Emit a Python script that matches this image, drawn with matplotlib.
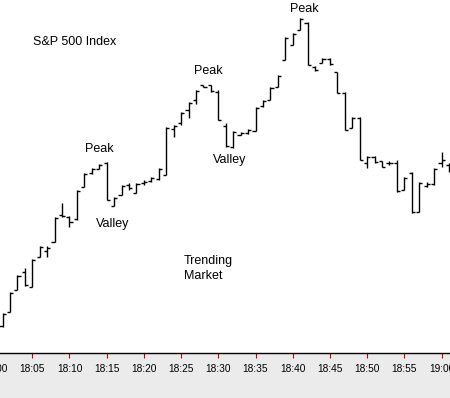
import matplotlib
matplotlib.use("Agg")
import matplotlib.pyplot as plt
import numpy as np

# minutes after 18:00
minutes = list(range(1, 62))
opens = [1182.4, 1183.8, 1186.0, 1187.8, 1186.3, 1189.3, 1189.9, 1190.8, 1193.5, 1193.3,
         1193.1, 1196.3, 1197.7, 1198.1, 1198.7, 1194.4, 1195.5, 1196.5, 1195.7, 1196.7,
         1196.9, 1197.1, 1197.5, 1202.1, 1202.7, 1204.0, 1205.0, 1206.5, 1206.5, 1205.8,
         1202.4, 1200.3, 1201.5, 1201.7, 1201.9, 1204.4, 1205.0, 1206.3, 1209.0, 1210.5,
         1212.0, 1212.7, 1208.3, 1208.7, 1209.1, 1207.8, 1205.7, 1202.2, 1203.2, 1198.7,
         1199.3, 1198.9, 1198.7, 1198.7, 1196.0, 1197.7, 1193.8, 1196.4, 1196.6, 1198.7,
         1198.5]
highs = [1183.7, 1185.8, 1187.5, 1188.2, 1189.1, 1190.4, 1190.4, 1193.3, 1194.7, 1193.4,
         1196.0, 1197.7, 1198.2, 1198.6, 1198.8, 1195.3, 1196.5, 1196.7, 1196.7, 1197.0,
         1197.3, 1198.2, 1202.3, 1202.5, 1203.8, 1204.8, 1206.0, 1206.5, 1206.5, 1206.0,
         1202.7, 1201.9, 1201.8, 1202.1, 1204.3, 1205.0, 1206.3, 1207.5, 1211.3, 1211.7,
         1213.2, 1212.8, 1208.4, 1209.2, 1209.2, 1207.8, 1205.8, 1203.3, 1203.3, 1199.4,
         1199.4, 1198.9, 1198.9, 1199.0, 1197.3, 1197.8, 1196.8, 1196.8, 1198.2, 1199.8,
         1198.7]
lows = [1182.3, 1183.8, 1186.0, 1186.4, 1186.3, 1189.3, 1189.3, 1190.8, 1193.3, 1192.3,
        1193.0, 1196.3, 1197.6, 1198.1, 1195.0, 1194.4, 1195.5, 1196.0, 1195.7, 1196.5,
        1196.8, 1197.0, 1197.5, 1201.3, 1202.5, 1203.2, 1204.6, 1206.3, 1205.8, 1203.0,
        1200.3, 1200.2, 1201.5, 1201.6, 1201.9, 1204.3, 1205.0, 1206.3, 1209.0, 1210.5,
        1212.0, 1208.5, 1207.9, 1208.7, 1208.5, 1205.7, 1202.0, 1202.2, 1199.0, 1198.2,
        1198.7, 1198.3, 1198.5, 1195.8, 1196.0, 1193.7, 1193.8, 1196.3, 1196.5, 1198.3,
        1197.8]
closes = [1183.6, 1185.7, 1187.4, 1186.5, 1189.0, 1190.3, 1190.2, 1193.2, 1193.4, 1192.8,
          1195.9, 1197.6, 1198.1, 1198.5, 1195.0, 1195.2, 1196.4, 1196.2, 1196.6, 1196.8,
          1197.2, 1198.1, 1202.2, 1202.4, 1203.7, 1204.7, 1205.9, 1206.3, 1205.9, 1203.0,
          1200.4, 1201.8, 1201.7, 1202.0, 1204.2, 1204.9, 1206.2, 1207.4, 1211.2, 1211.6,
          1213.1, 1208.5, 1208.0, 1209.1, 1208.6, 1205.7, 1202.0, 1203.2, 1199.0, 1199.3,
          1198.8, 1198.3, 1198.7, 1195.9, 1197.2, 1193.8, 1196.7, 1196.6, 1198.1, 1199.0,
          1198.2]

tick_minutes = list(range(0, 61, 5))
tick_labels = ["18:00", "18:05", "18:10", "18:15", "18:20", "18:25", "18:30",
               "18:35", "18:40", "18:45", "18:50", "18:55", "19:00"]

annotations = [
    ("Peak", 13.97, 1200.1),
    ("Valley", 15.85, 1192.6),
    ("Peak", 28.61, 1207.9),
    ("Valley", 31.57, 1199.0),
    ("Peak", 41.52, 1214.1),
]

plt.rcParams['font.family'] = ['Liberation Sans', 'DejaVu Sans']

fig = plt.figure(figsize=(4.5, 3.98), dpi=100, facecolor='#ebebeb')
ax = fig.add_axes([0, 45 / 398, 1, 353 / 398])
ax.set_facecolor('white')

x = np.array(minutes, dtype=float)
w = 0.42
lw = 1.0
ax.vlines(x, lows, highs, color='black', lw=lw)
ax.hlines(opens, x - w, x, color='black', lw=lw)
ax.hlines(closes, x, x + w, color='black', lw=lw)

tick_len = 3.3
tick_pad = 4.5
tick_fs = 7.3
for s in ['top', 'right', 'left']:
    ax.spines[s].set_visible(False)
ax.spines['bottom'].set_color('black')
ax.spines['bottom'].set_linewidth(1.0)
ax.set_yticks([])
ax.set_xticks(tick_minutes)
ax.set_xticklabels(tick_labels, fontsize=tick_fs)
ax.tick_params(axis='x', direction='out', length=tick_len, width=0.8, color='#cc0000', pad=tick_pad)

ax.set_xlim(0.66, 61.14)
ax.set_ylim(1179.7, 1215.0)

# tick labels that sit just outside the view limits (partly visible at the edge)
xmin, xmax = ax.get_xlim()
for tm, tl in zip(tick_minutes, tick_labels):
    if tm < xmin or tm > xmax:
        ax.annotate(tl, xy=(tm, 0), xycoords=ax.get_xaxis_transform(),
                    xytext=(0, -(tick_len + tick_pad)), textcoords='offset points',
                    ha='center', va='top', fontsize=tick_fs, annotation_clip=False)

ax.text(5.09, 1210.8, "S&P 500 Index", fontsize=9, ha='left', va='center')
for label, mx, py in annotations:
    ax.text(mx, py, label, fontsize=9, ha='center', va='center')
ax.text(25.39, 1188.15, "Trending\nMarket", fontsize=9, ha='left', va='center', linespacing=1.25)

fig.savefig("out.png", dpi=100, facecolor=fig.get_facecolor())
